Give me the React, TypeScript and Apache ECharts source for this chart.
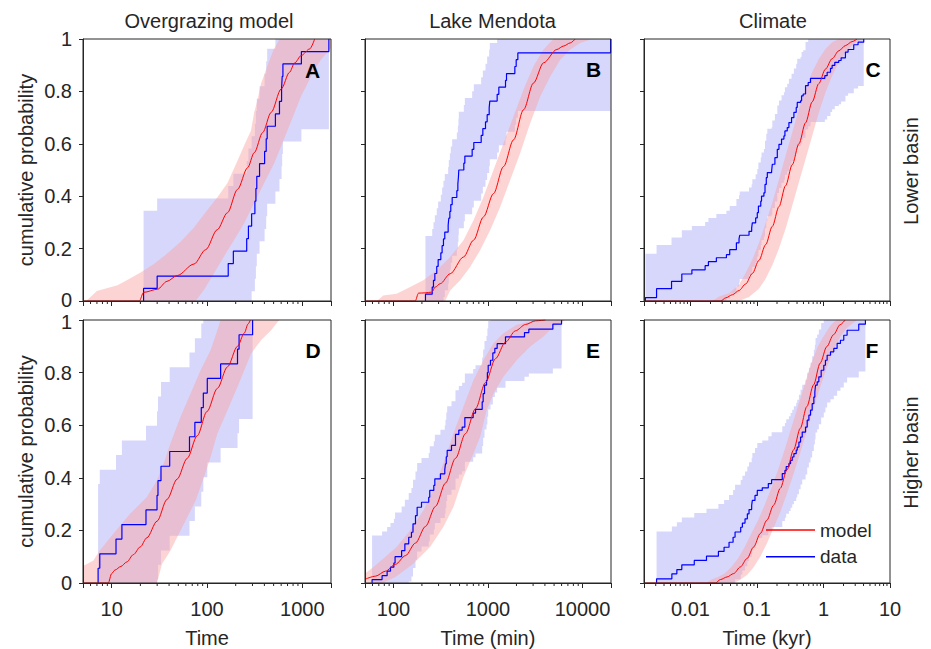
import React, { useEffect, useRef } from "react";
import * as echarts from "echarts";

type Pt = [number, number];

// ---------- text ----------
const columnTitles = ["Overgrazing model", "Lake Mendota", "Climate"];
const rowLabels = ["Lower basin", "Higher basin"];
const panelLetters = ["A", "B", "C", "D", "E", "F"];
const xAxisNames = ["Time", "Time (min)", "Time (kyr)"];
const yAxisName = "cumulative probability";
const xRanges: Pt[] = [[5, 2000], [50, 20000], [0.002, 10]];
const legendNames = ["model", "data"];

// ---------- Panel A : Overgrazing model, lower basin ----------
const aDataX = [21.6, 30, 167, 189, 261, 272, 294, 318, 326, 333, 356, 402, 418, 428, 522, 576, 606, 615, 626, 978, 1900];
const aDataP = [0.048, 0.095, 0.143, 0.19, 0.238, 0.286, 0.333, 0.381, 0.429, 0.476, 0.524, 0.571, 0.619, 0.667, 0.714, 0.762, 0.81, 0.857, 0.905, 0.952, 1];
const aBandHalf = 0.296;
const aModel: Pt[] = [[5, 0], [19.5, 0], [21.6, 0.033], [30.3, 0.045], [38, 0.075], [48.6, 0.097], [73, 0.141], [97, 0.196], [128, 0.272], [164, 0.337], [209, 0.426], [267, 0.509], [313, 0.566], [384, 0.643], [471, 0.72], [600, 0.809], [735, 0.873], [828, 0.908], [975, 0.937], [1194, 0.962], [1349, 1]];
const aModelUpper: Pt[] = [[5.4, 0], [7, 0.038], [11.5, 0.06], [14.4, 0.079], [19.9, 0.108], [27.5, 0.14], [38, 0.18], [52.6, 0.225], [72.7, 0.28], [100, 0.345], [128, 0.395], [164, 0.45], [209, 0.535], [250, 0.6], [289, 0.65], [313, 0.72], [340, 0.77], [369, 0.83], [433, 0.9], [500, 0.96], [580, 1], [2000, 1]];
const aModelLower: Pt[] = [[76, 0], [93, 0.043], [119, 0.107], [151, 0.171], [193, 0.234], [246, 0.298], [313, 0.375], [400, 0.452], [510, 0.528], [600, 0.592], [706, 0.656], [830, 0.719], [975, 0.783], [1148, 0.834], [1349, 0.885], [1585, 0.924], [2000, 0.965]];

// ---------- Panel B : Lake Mendota, lower basin ----------
const bDataX = [218, 257, 265, 274, 287, 297, 317, 327, 338, 349, 379, 385, 395, 404, 418, 468, 480, 487, 491, 555, 569, 680, 708, 847, 882, 941, 980, 1029, 1045, 1250, 1302, 1532, 1570, 1923, 1987, 2069, 19800, 19800];
const bDataP = [0.026, 0.053, 0.079, 0.105, 0.132, 0.158, 0.184, 0.211, 0.237, 0.263, 0.289, 0.316, 0.342, 0.368, 0.395, 0.421, 0.447, 0.474, 0.5, 0.526, 0.553, 0.579, 0.605, 0.632, 0.658, 0.684, 0.711, 0.737, 0.763, 0.789, 0.816, 0.842, 0.868, 0.895, 0.921, 0.947, 0.974, 1];
const bBandHalf = 0.222;
const bModel: Pt[] = [[50, 0], [170, 0], [184, 0.03], [216, 0.031], [255, 0.034], [276, 0.053], [312, 0.066], [398, 0.104], [551, 0.168], [703, 0.232], [896, 0.321], [1143, 0.41], [1459, 0.513], [1862, 0.615], [2377, 0.73], [3029, 0.832], [3866, 0.909], [5350, 0.96], [6290, 0.973], [7410, 0.985], [8360, 1]];
const bModelUpper: Pt[] = [[66.7, 0], [78, 0.021], [108, 0.028], [150, 0.053], [207, 0.079], [287, 0.117], [398, 0.168], [551, 0.232], [703, 0.308], [896, 0.397], [1143, 0.5], [1459, 0.602], [1862, 0.704], [2377, 0.807], [3029, 0.896], [3866, 0.96], [4930, 1]];
const bModelLower: Pt[] = [[352, 0], [398, 0.04], [508, 0.079], [647, 0.13], [826, 0.194], [1054, 0.27], [1345, 0.359], [1718, 0.462], [2188, 0.564], [2793, 0.678], [3566, 0.781], [4550, 0.857], [5808, 0.921], [7410, 0.96], [9440, 0.985], [12060, 0.998], [14190, 1]];

// ---------- Panel C : Climate, lower basin ----------
const cDataX = [0.0021, 0.00309, 0.00519, 0.00741, 0.0105, 0.0166, 0.0186, 0.0245, 0.0347, 0.0389, 0.049, 0.0537, 0.055, 0.0759, 0.0832, 0.0851, 0.0955, 0.101, 0.105, 0.114, 0.117, 0.127, 0.132, 0.138, 0.143, 0.166, 0.17, 0.186, 0.202, 0.214, 0.234, 0.254, 0.263, 0.285, 0.302, 0.331, 0.359, 0.389, 0.403, 0.452, 0.468, 0.495, 0.537, 0.589, 0.638, 1.047, 1.135, 1.274, 1.349, 1.479, 1.698, 1.841, 2.138, 2.344, 2.851, 3.311, 4.027];
const cDataP = [0.013, 0.047, 0.075, 0.103, 0.119, 0.135, 0.15, 0.165, 0.177, 0.196, 0.222, 0.237, 0.251, 0.266, 0.279, 0.298, 0.317, 0.337, 0.362, 0.381, 0.4, 0.413, 0.445, 0.471, 0.49, 0.496, 0.522, 0.547, 0.579, 0.598, 0.618, 0.63, 0.649, 0.662, 0.681, 0.7, 0.72, 0.739, 0.758, 0.764, 0.783, 0.79, 0.822, 0.834, 0.85, 0.86, 0.873, 0.888, 0.899, 0.911, 0.918, 0.928, 0.95, 0.96, 0.978, 0.988, 1];
const cBandHalf = 0.167;
const cModel: Pt[] = [[0.002, 0], [0.0285, 0], [0.0339, 0.012], [0.0427, 0.024], [0.0537, 0.04], [0.0676, 0.065], [0.0851, 0.105], [0.107, 0.155], [0.135, 0.215], [0.17, 0.285], [0.214, 0.36], [0.269, 0.44], [0.339, 0.52], [0.427, 0.6], [0.537, 0.68], [0.676, 0.76], [0.851, 0.83], [1.07, 0.885], [1.35, 0.925], [1.7, 0.955], [2.14, 0.975], [2.69, 0.99], [3.2, 1]];
const cModelUpper: Pt[] = [[0.0214, 0], [0.0269, 0.017], [0.038, 0.03], [0.0537, 0.062], [0.0676, 0.107], [0.0851, 0.158], [0.107, 0.221], [0.135, 0.298], [0.17, 0.375], [0.214, 0.464], [0.269, 0.554], [0.339, 0.643], [0.427, 0.732], [0.537, 0.809], [0.676, 0.873], [0.851, 0.924], [1.07, 0.962], [1.35, 0.988], [1.7, 1]];
const cModelLower: Pt[] = [[0.0537, 0], [0.0759, 0.015], [0.107, 0.047], [0.135, 0.085], [0.17, 0.136], [0.214, 0.2], [0.269, 0.276], [0.339, 0.364], [0.427, 0.453], [0.537, 0.541], [0.676, 0.63], [0.851, 0.719], [1.07, 0.796], [1.35, 0.86], [1.7, 0.911], [2.14, 0.949], [2.69, 0.975], [3.39, 0.994], [4.27, 1]];

// ---------- Panel D : Overgrazing model, higher basin ----------
const dDataX = [7.2, 7.5, 11.1, 12.8, 22.9, 29.9, 30.6, 32.9, 40.6, 65.5, 74.6, 87.1, 91.5, 100.7, 139, 209, 217, 301];
const dDataP = [0.056, 0.111, 0.167, 0.222, 0.278, 0.333, 0.389, 0.444, 0.5, 0.556, 0.611, 0.667, 0.722, 0.778, 0.833, 0.889, 0.944, 1];
const dBandHalf = 0.32;
const dModel: Pt[] = [[5, 0], [9.2, 0], [10, 0.036], [10.8, 0.049], [12.5, 0.063], [14.4, 0.08], [16.9, 0.108], [19.9, 0.137], [23.4, 0.172], [29.9, 0.235], [38.1, 0.318], [48.6, 0.395], [62, 0.474], [79, 0.56], [100, 0.652], [128.5, 0.74], [164, 0.822], [209, 0.9], [246, 0.95], [270, 0.985], [285, 1]];
const dModelUpper: Pt[] = [[5, 0], [5, 0.065], [6.4, 0.085], [7.5, 0.124], [10.4, 0.187], [15.6, 0.263], [23.4, 0.327], [29.9, 0.39], [35.1, 0.454], [41.3, 0.53], [52.7, 0.631], [67.1, 0.72], [85.7, 0.809], [109, 0.885], [128.5, 0.961], [139, 1]];
const dModelLower: Pt[] = [[29.9, 0], [33.7, 0.072], [41.3, 0.123], [48.6, 0.174], [62, 0.25], [76, 0.314], [93, 0.403], [109, 0.479], [128.5, 0.568], [164, 0.657], [209, 0.746], [246, 0.809], [289, 0.872], [369, 0.923], [471, 0.961], [553, 0.993], [576, 1]];

// ---------- Panel E : Lake Mendota, higher basin ----------
const eDataX = [59.4, 75.8, 85.7, 93, 101, 104, 122, 132, 145, 155, 161, 171, 178, 198, 236, 242, 267, 274, 314, 349, 355, 362, 370, 411, 453, 491, 533, 569, 697, 738, 868, 889, 918, 964, 985, 1005, 1062, 1125, 1181, 1250, 1531, 2432, 2704, 4853, 5996];
const eDataP = [0.013, 0.028, 0.045, 0.06, 0.076, 0.1, 0.123, 0.149, 0.174, 0.193, 0.225, 0.256, 0.288, 0.307, 0.326, 0.352, 0.371, 0.396, 0.415, 0.431, 0.453, 0.48, 0.504, 0.523, 0.565, 0.581, 0.593, 0.629, 0.646, 0.66, 0.689, 0.72, 0.752, 0.771, 0.8, 0.828, 0.847, 0.875, 0.892, 0.91, 0.936, 0.952, 0.965, 0.984, 1];
const eBandHalf = 0.168;
const eModel: Pt[] = [[50, 0.014], [64.6, 0.026], [82.3, 0.045], [105, 0.071], [134, 0.104], [171, 0.152], [218, 0.215], [278, 0.291], [355, 0.38], [453, 0.474], [578, 0.568], [738, 0.663], [941, 0.762], [1200, 0.853], [1531, 0.916], [1954, 0.959], [2494, 0.983], [3183, 0.997], [4055, 1]];
const eModelUpper: Pt[] = [[50, 0.036], [61.4, 0.061], [78.4, 0.093], [108, 0.137], [150, 0.2], [208, 0.277], [265, 0.353], [338, 0.455], [432, 0.569], [551, 0.671], [703, 0.772], [896, 0.848], [1143, 0.912], [1459, 0.95], [2019, 0.982], [2793, 0.994], [3866, 1]];
const eModelLower: Pt[] = [[50, 0], [75.8, 0], [105, 0.023], [163, 0.074], [245, 0.138], [338, 0.214], [432, 0.29], [551, 0.404], [703, 0.493], [826, 0.556], [968, 0.658], [1143, 0.721], [1459, 0.785], [2019, 0.848], [2793, 0.899], [3866, 0.937], [4930, 0.975], [6600, 1]];

// ---------- Panel F : Climate, higher basin ----------
const fDataX = [0.00309, 0.00525, 0.00624, 0.00741, 0.0114, 0.0174, 0.0263, 0.032, 0.038, 0.0437, 0.0468, 0.0569, 0.0603, 0.0661, 0.0716, 0.0759, 0.0832, 0.0851, 0.0933, 0.101, 0.12, 0.148, 0.166, 0.24, 0.263, 0.275, 0.302, 0.32, 0.339, 0.359, 0.389, 0.403, 0.427, 0.452, 0.479, 0.537, 0.569, 0.603, 0.638, 0.676, 0.716, 0.741, 0.759, 0.804, 0.851, 0.923, 1.01, 1.07, 1.135, 1.274, 1.429, 1.603, 1.799, 2.018, 2.265, 3.39, 4.27];
const fDataP = [0.016, 0.035, 0.051, 0.069, 0.086, 0.102, 0.12, 0.136, 0.155, 0.174, 0.194, 0.212, 0.228, 0.244, 0.263, 0.279, 0.295, 0.314, 0.333, 0.352, 0.362, 0.378, 0.393, 0.416, 0.428, 0.443, 0.454, 0.466, 0.479, 0.492, 0.505, 0.517, 0.536, 0.555, 0.574, 0.593, 0.619, 0.638, 0.657, 0.682, 0.707, 0.726, 0.752, 0.765, 0.784, 0.809, 0.828, 0.847, 0.866, 0.879, 0.892, 0.911, 0.923, 0.942, 0.961, 0.984, 1];
const fBandHalf = 0.18;
const fModel: Pt[] = [[0.002, 0], [0.0237, 0], [0.0282, 0.013], [0.0355, 0.023], [0.0447, 0.036], [0.0562, 0.061], [0.0708, 0.093], [0.0891, 0.137], [0.112, 0.188], [0.141, 0.239], [0.178, 0.296], [0.224, 0.36], [0.282, 0.43], [0.355, 0.506], [0.447, 0.588], [0.562, 0.671], [0.708, 0.753], [0.891, 0.836], [1.122, 0.899], [1.413, 0.944], [1.778, 0.982], [2.11, 1]];
const fModelUpper: Pt[] = [[0.0174, 0], [0.0207, 0.013], [0.026, 0.023], [0.0327, 0.036], [0.0412, 0.061], [0.0519, 0.093], [0.0653, 0.137], [0.0822, 0.188], [0.104, 0.239], [0.13, 0.296], [0.164, 0.36], [0.207, 0.43], [0.26, 0.506], [0.327, 0.588], [0.412, 0.671], [0.519, 0.753], [0.653, 0.836], [0.822, 0.899], [1.035, 0.944], [1.303, 0.982], [1.549, 1]];
const fModelLower: Pt[] = [[0.045, 0], [0.056, 0.012], [0.0708, 0.03], [0.0891, 0.06], [0.112, 0.1], [0.141, 0.15], [0.178, 0.21], [0.224, 0.27], [0.282, 0.34], [0.355, 0.415], [0.447, 0.495], [0.562, 0.58], [0.708, 0.665], [0.891, 0.745], [1.122, 0.82], [1.413, 0.885], [1.778, 0.935], [2.239, 0.97], [2.818, 0.99], [3.2, 1]];

// ---------- styling / layout ----------
const FONT = "'Liberation Sans', Arial, Helvetica, sans-serif";
const INK = "#262626";
const RED = "#ff0000";
const BLUE = "#0000ff";
const BLUE_BAND = "#d7d7fb";
const PINK_BAND = "rgba(250,160,160,0.45)";
const GRID_LEFT = [83, 365, 644];
const GRID_WIDTH = [248, 246, 246];
const GRID_TOP = [39, 320];
const GRID_HEIGHT = [262, 263];
const LETTER_POS: Pt[] = [[312.5, 70.3], [593.5, 69.5], [873, 69.5], [313, 350.5], [593, 350.5], [872, 350.5]];
const TITLE_X = [209, 492.5, 773];

const panels = [
  { xs: aDataX, ps: aDataP, half: aBandHalf, model: aModel, up: aModelUpper, lo: aModelLower },
  { xs: bDataX, ps: bDataP, half: bBandHalf, model: bModel, up: bModelUpper, lo: bModelLower },
  { xs: cDataX, ps: cDataP, half: cBandHalf, model: cModel, up: cModelUpper, lo: cModelLower },
  { xs: dDataX, ps: dDataP, half: dBandHalf, model: dModel, up: dModelUpper, lo: dModelLower },
  { xs: eDataX, ps: eDataP, half: eBandHalf, model: eModel, up: eModelUpper, lo: eModelLower },
  { xs: fDataX, ps: fDataP, half: fBandHalf, model: fModel, up: fModelUpper, lo: fModelLower },
];

function logLabel(v: number): string {
  const L = Math.log10(v);
  const n = Math.round(L);
  if (Math.abs(L - n) > 1e-6) return "";
  return n >= 0 ? String(Math.round(Math.pow(10, n))) : Math.pow(10, n).toFixed(-n);
}

// y labels; the touching "0" (upper row) and "1" (lower row) are nudged apart slightly
function yLabelFormatter(row: number) {
  return (v: number) => {
    const s = String(Math.round(v * 10) / 10);
    if (row === 0 && v === 0) return "{lo|" + s + "}";
    if (row === 1 && v === 1) return "{hi|" + s + "}";
    return s;
  };
}

function minorTickValues(min: number, max: number): Pt[] {
  const out: Pt[] = [];
  for (let n = Math.floor(Math.log10(min)); n <= Math.ceil(Math.log10(max)); n++) {
    for (let k = 2; k <= 9; k++) {
      const v = k * Math.pow(10, n);
      if (v > min * 1.0001 && v < max * 0.9999) out.push([v, 0]);
    }
  }
  return out;
}

// confidence band of an empirical step CDF (level +/- half width, clipped to [0,1])
function stepBandPolygon(xs: number[], ps: number[], half: number): Pt[] {
  const top: Pt[] = [];
  const bottom: Pt[] = [];
  for (let i = 0; i < xs.length; i++) {
    const xNext = i + 1 < xs.length ? xs[i + 1] : xs[i];
    const up = Math.min(1, ps[i] + half);
    const lo = Math.max(0, ps[i] - half);
    top.push([xs[i], up], [xNext, up]);
    bottom.push([xs[i], lo], [xNext, lo]);
  }
  return top.concat(bottom.reverse());
}

function polygonSeries(poly: Pt[], fill: string, idx: number, name: string) {
  return {
    type: "custom",
    name,
    xAxisIndex: idx,
    yAxisIndex: idx,
    clip: true,
    silent: true,
    data: poly,
    renderItem: (params: any, api: any) => {
      if (params.dataIndex !== 0) return null;
      return {
        type: "polygon",
        shape: { points: poly.map((p) => api.coord(p)) },
        style: { fill, stroke: "none" },
      };
    },
  };
}

function buildOption() {
  const grid: any[] = [];
  const xAxis: any[] = [];
  const yAxis: any[] = [];
  const series: any[] = [];
  const textStyle = { fontSize: 20, fontFamily: FONT, color: INK };

  panels.forEach((pn, i) => {
    const row = Math.floor(i / 3);
    const col = i % 3;
    const [xMin, xMax] = xRanges[col];
    grid.push({
      left: GRID_LEFT[col], top: GRID_TOP[row], width: GRID_WIDTH[col], height: GRID_HEIGHT[row],
      show: true, borderColor: INK, borderWidth: 1, backgroundColor: "rgba(0,0,0,0)", z: 5,
    });
    xAxis.push({
      type: "log", logBase: 10, gridIndex: i, min: xMin, max: xMax, z: 6,
      axisLine: { show: true, lineStyle: { color: INK, width: 1 } },
      axisTick: { show: true, inside: false, length: 5, lineStyle: { color: INK, width: 1 } },
      minorTick: { show: false },
      splitLine: { show: false },
      axisLabel: { show: row === 1, formatter: logLabel, margin: 17, lineHeight: 18, ...textStyle },
      name: row === 1 ? xAxisNames[col] : "",
      nameLocation: "middle", nameGap: 45, nameTextStyle: textStyle,
    });
    yAxis.push({
      type: "value", gridIndex: i, min: 0, max: 1, interval: 0.2, z: 6,
      axisLine: { show: true, lineStyle: { color: INK, width: 1 } },
      axisTick: { show: true, inside: false, length: 4, lineStyle: { color: INK, width: 1 } },
      splitLine: { show: false },
      axisLabel: {
        show: col === 0, margin: 11, lineHeight: 17, ...textStyle,
        formatter: yLabelFormatter(row),
        rich: {
          lo: { ...textStyle, lineHeight: 17, padding: [0, 0, 3, 0] },
          hi: { ...textStyle, lineHeight: 17, padding: [3, 0, 0, 0] },
        },
      },
      name: col === 0 ? yAxisName : "",
      nameLocation: "middle", nameGap: 47, nameTextStyle: textStyle,
    });

    series.push(polygonSeries(stepBandPolygon(pn.xs, pn.ps, pn.half), BLUE_BAND, i, "data band"));
    series.push(polygonSeries([...pn.up, ...pn.lo.slice().reverse()], PINK_BAND, i, "model band"));

    const minor = minorTickValues(xMin, xMax);
    series.push({
      type: "custom", name: "minor ticks", xAxisIndex: i, yAxisIndex: i, silent: true, clip: false, z: 6,
      data: minor,
      renderItem: (_p: any, api: any) => {
        const c = api.coord([api.value(0), 0]);
        return { type: "line", shape: { x1: c[0], y1: c[1], x2: c[0], y2: c[1] + 3 }, style: { stroke: INK, lineWidth: 1 } };
      },
    });

    const dataLine: Pt[] = [[pn.xs[0], 0]];
    pn.xs.forEach((x, k) => dataLine.push([x, pn.ps[k]]));
    series.push({
      type: "line", name: legendNames[1], xAxisIndex: i, yAxisIndex: i, data: dataLine, step: "end",
      symbol: "none", silent: true, lineStyle: { color: BLUE, width: 1.2 }, itemStyle: { color: BLUE }, z: 3,
    });
    series.push({
      type: "line", name: legendNames[0], xAxisIndex: i, yAxisIndex: i, data: pn.model,
      smooth: 0.3, smoothMonotone: "x", symbol: "none", silent: true,
      lineStyle: { color: RED, width: 1 }, itemStyle: { color: RED }, z: 4,
    });
  });

  const graphic: any[] = [];
  columnTitles.forEach((t, c) => {
    graphic.push({
      type: "text", x: TITLE_X[c], y: 20.5,
      style: { text: t, fontSize: 20, fontFamily: FONT, fill: INK, align: "center", verticalAlign: "middle", textAlign: "center", textVerticalAlign: "middle" },
    });
  });
  rowLabels.forEach((t, r) => {
    graphic.push({
      type: "text", x: 911, y: GRID_TOP[r] + GRID_HEIGHT[r] / 2 + 1, rotation: Math.PI / 2,
      style: { text: t, fontSize: 20, fontFamily: FONT, fill: INK, align: "center", verticalAlign: "middle", textAlign: "center", textVerticalAlign: "middle" },
    });
  });
  panelLetters.forEach((t, i) => {
    graphic.push({
      type: "text", x: LETTER_POS[i][0], y: LETTER_POS[i][1], z: 20,
      style: { text: t, fontSize: 21, fontWeight: "bold", fontFamily: FONT, fill: "#000", align: "center", verticalAlign: "middle", textAlign: "center", textVerticalAlign: "middle" },
    });
  });

  return {
    animation: false,
    backgroundColor: "#ffffff",
    grid, xAxis, yAxis, series, graphic,
    legend: {
      data: legendNames.map((n) => ({ name: n, icon: "rect" })),
      orient: "vertical", left: 766, top: 520, padding: 0,
      itemWidth: 49, itemHeight: 1.5, itemGap: 6.7, selectedMode: false,
      textStyle: { fontSize: 19, fontFamily: FONT, color: INK, lineHeight: 20 },
    },
  };
}

export default function App() {
  const ref = useRef<HTMLDivElement>(null);
  useEffect(() => {
    if (!ref.current) return;
    const chart = echarts.init(ref.current, null, { renderer: "svg" });
    chart.setOption(buildOption() as any);
    return () => chart.dispose();
  }, []);
  return (
    <div
      ref={ref}
      style={{ position: "fixed", left: 0, top: 0, width: 931, height: 649, background: "#fff" }}
    />
  );
}
